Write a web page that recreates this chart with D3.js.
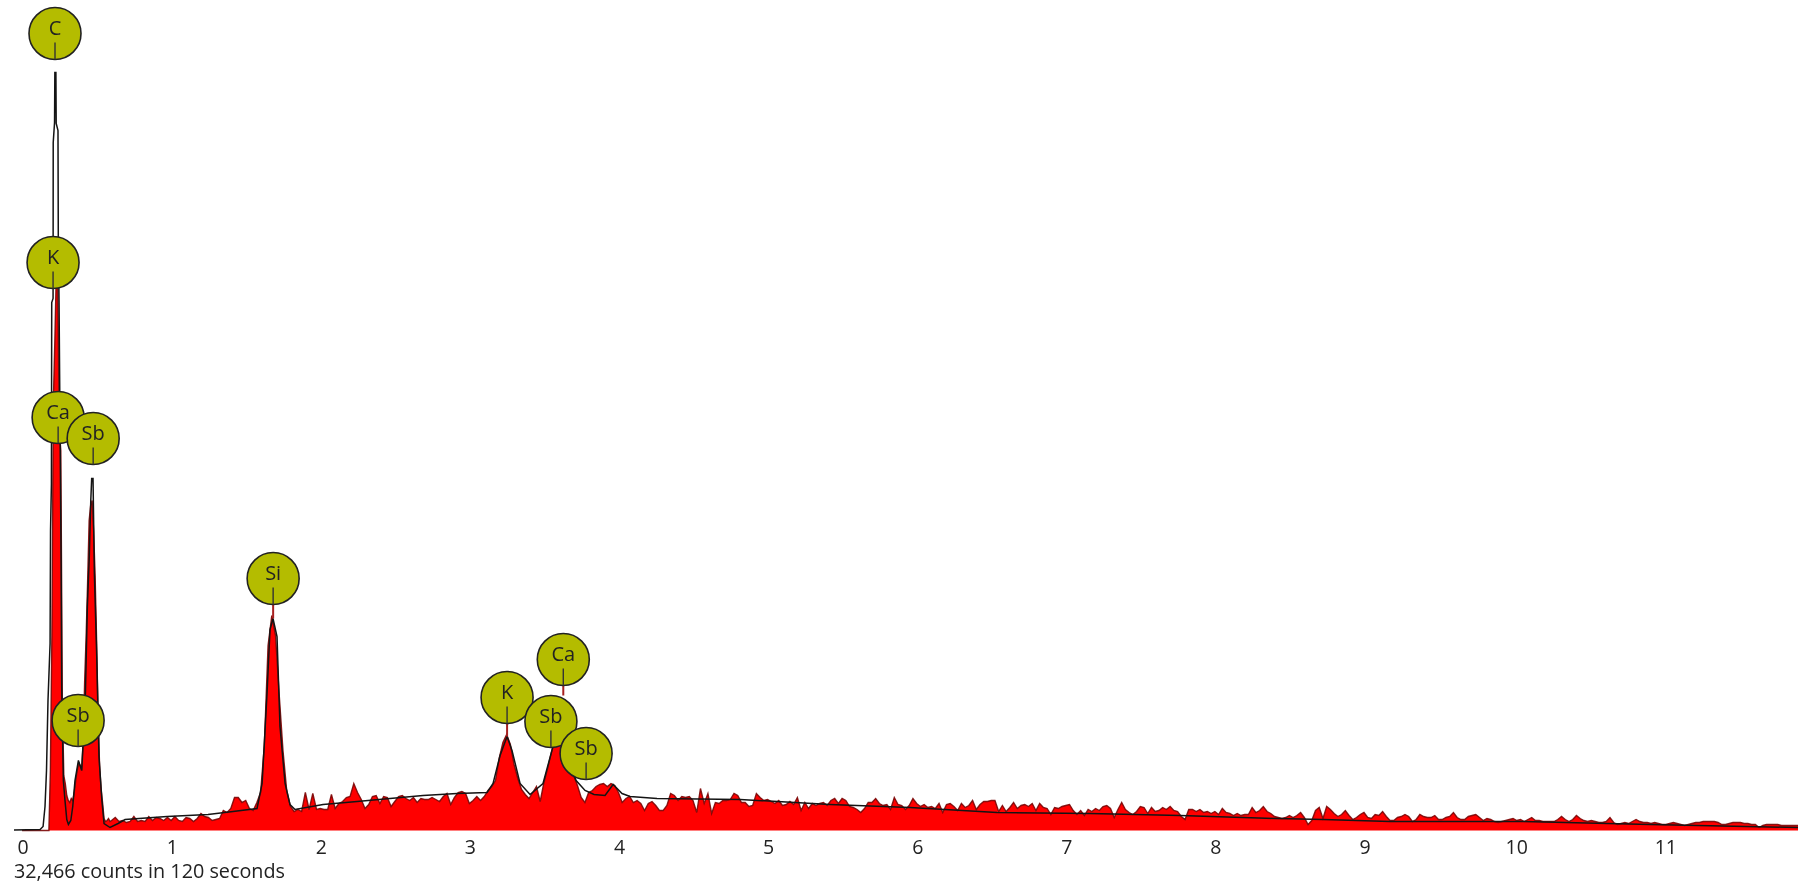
<!DOCTYPE html>
<html>
<head>
<meta charset="utf-8">
<script src="https://cdnjs.cloudflare.com/ajax/libs/d3/7.8.5/d3.min.js"></script>
<style>
  html, body { margin: 0; background: #fff; overflow: hidden; }
  svg { display: block; filter: blur(0.55px); }
  text { font-family: "Open Sans", sans-serif; fill: #222; }
</style>
</head>
<body>
<svg id="chart"></svg>
<script>
// spectrum below 0.6 keV, one value every 0.01 keV
var lowCounts = [0,0,0,0,0,0,0,0,0,0,0,0,0,0,0,0,0,0,0,60,195,430,490,560,540,400,380,130,55,47,
  35,30,28,32,30,38,50,60,68,65,62,90,150,195,250,310,325,330,300,255,190,115,65,42,28,12,9,10,12,9];

// spectrum from 0.6 keV on, one value every 0.025 keV
var tailCounts = [
  10,13,9,10,8,9,14,9,10,9,14,10,13,12,10,13,10,14,10,9,13,12,9,12,17,14,13,10,11,12,20,18,22,33,33,28,30,22,20,28,
  38,85,185,215,195,135,80,40,24,19,
  21,19,38,21,37,21,22,21,21,36,22,27,29,33,34,47,38,31,22,26,34,35,27,34,33,24,29,34,35,32,30,33,28,32,31,31,33,31,29,34,37,26,33,38,39,37,27,30,34,30,34,40,
  44,50,72,88,96,86,66,52,41,36,32,38,44,29,48,62,78,92,95,90,80,68,55,45,33,28,38,40,44,46,47,44,47,45,38,28,32,34,28,30,27,20,27,29,25,20,20,25,
  37,35,30,34,33,34,30,18,42,27,37,17,28,27,30,30,31,37,35,28,28,24,25,37,33,30,31,29,27,30,25,26,29,26,33,20,28,22,27,25,27,28,25,
  30,32,27,32,30,24,23,21,18,22,28,28,32,27,25,26,21,33,26,25,21,25,32,27,24,26,23,24,22,27,18,26,27,24,20,27,23,25,30,21,26,29,29,30,30,19,25,19,23,28,22,25,26,24,27,20,27,23,22,16,23,22,24,25,26,20,16,20,15,21,
  19,22,20,24,25,22,13,21,28,21,18,16,19,24,23,17,23,19,20,23,21,24,20,19,14,11,21,21,19,21,18,19,17,19,16,22,18,17,15,17,15,16,16,23,18,20,24,19,17,14,13,12,13,15,13,15,18,13,6,10,20,23,12,24,21,17,14,16,20,15,11,13,16,18,13,12,16,15,19,14,
  10,10,13,14,16,14,9,11,16,14,13,13,15,11,11,13,14,18,13,11,11,14,15,16,13,10,12,11,9,8,9,10,11,12,10,11,9,11,13,10,10,9,9,9,9,11,14,11,9,11,15,12,10,9,10,9,8,8,9,13,8,6,7,8,7,9,11,9,8,8,7,8,7,6,6,7,8,7,6,5,6,7,8,8,9,9,9,9,8,6,6,7,8,8,8,7,7,6,6,3,5,6,6,6,6,5,5,5,5,5,5
];

var fitKeV = [-0.054,0.121,0.141,0.154,0.164,0.174,0.188,0.191,0.197,0.199,0.208,0.209,0.218,0.220,0.227,0.229,0.241,0.243,0.248,0.255,0.262,0.266,0.277,
  0.288,0.300,0.311,0.327,0.340,0.355,0.378,0.400,0.423,0.438,0.451,0.461,0.467,0.476,0.485,0.501,0.516,0.535,0.550,0.590,
  0.644,0.691,0.973,1.247,1.415,1.576,1.610,1.643,1.663,1.683,1.710,1.730,1.764,1.797,1.831,2.019,2.247,2.468,2.689,2.918,
  3.119,3.159,3.206,3.253,3.286,3.340,3.407,3.494,3.561,3.608,3.660,3.716,3.776,3.836,3.910,3.964,4.024,4.078,4.259,4.816,5.419,
  5.956,6.539,7.163,7.767,8.417,8.726,9.175,10.067,10.919,11.911];
var fitCounts = [0.5,1,4,24,60,130,187,300,347,528,532,688,708,758,758,707,700,595,530,400,267,144,50,
  30,11,6,10,24,50,70,60,124,224,274,330,352,352,257,174,74,31,7,3,
  7,11,14,16,19,22,47,137,201,212,194,104,47,26,21,26,29,32,35,37,
  38,47,75,94,80,47,36,47,84,95,70,50,40,36,35,46,37,34,32,31,26,
  23,18,17,15,12,11,9,9,6,3];

// element markers
var labelNames  = ["C","K","Ca","Sb","Sb","Si","K","Ca","Sb","Sb"];
var labelKeV    = [0.221,0.208,0.242,0.477,0.376,1.684,3.253,3.630,3.547,3.783];
var labelHeight = [797,568,413,392,110,252,133,171,109,77];
var labelPeak   = [null,null,null,null,null,212,94,135,null,null];

var tickValues = [0,1,2,3,4,5,6,7,8,9,10,11];
var footer = "32,466 counts in 120 seconds";

var width = 1798, height = 886;

var svg = d3.select("#chart").attr("width", width).attr("height", height);

var x = d3.scaleLinear().domain([-0.054, 11.911]).range([14, 1798]);
var y = d3.scaleLinear().domain([0, 830]).range([830.5, 0.5]);

var spectrum = lowCounts.map(function(c, i) { return { keV: i * 0.01, counts: c }; })
  .concat(tailCounts.map(function(c, i) { return { keV: 0.6 + i * 0.025, counts: c }; }));

var area = d3.area()
  .x(function(d) { return x(d.keV); })
  .y0(y(0))
  .y1(function(d) { return y(d.counts); });

var topLine = d3.line()
  .x(function(d) { return x(d.keV); })
  .y(function(d) { return y(d.counts); });

svg.append("path").datum(spectrum)
  .attr("d", area)
  .attr("fill", "#ff0000");

svg.append("path").datum(spectrum)
  .attr("d", topLine)
  .attr("fill", "none")
  .attr("stroke", "#7a0505")
  .attr("stroke-opacity", 0.9)
  .attr("stroke-width", 1.4);

var fitLine = d3.line()
  .x(function(d, i) { return x(fitKeV[i]); })
  .y(function(d) { return y(d); });

svg.append("path").datum(fitCounts)
  .attr("d", fitLine)
  .attr("fill", "none")
  .attr("stroke", "#141414")
  .attr("stroke-width", 1.5);

// axis, two digit numbers sit a bit to the right of their tick
var axis = svg.append("g")
  .attr("transform", "translate(0," + 836 + ")")
  .call(d3.axisBottom(x).tickValues(tickValues).tickFormat(d3.format("d")).tickSize(0));
axis.select(".domain").remove();
axis.selectAll("text")
  .attr("text-anchor", "start")
  .attr("x", function(d) { return d >= 10 ? -8 : -5; })
  .attr("y", 4).attr("dy", "0.71em")
  .style("font-size", "19.5px")
  .style("font-family", '"Open Sans", sans-serif').style("fill", "#222");

svg.append("text")
  .attr("x", 14)
  .attr("y", 878)
  .style("font-size", "19.8px")
  .text(footer);

// circles sit on top of the spectrum, later ones over earlier ones
var radius = 26;
var labels = svg.append("g").selectAll("g")
  .data(d3.range(labelNames.length))
  .enter().append("g")
  .attr("transform", function(i) { return "translate(" + x(labelKeV[i]) + "," + y(labelHeight[i]) + ")"; });

labels.filter(function(i) { return labelPeak[i] !== null; })
  .append("line")
  .attr("x1", 0).attr("x2", 0)
  .attr("y1", radius)
  .attr("y2", function(i) { return y(labelPeak[i]) - y(labelHeight[i]); })
  .attr("stroke", "#a82020")
  .attr("stroke-width", 2);

labels.append("circle")
  .attr("r", radius)
  .attr("fill", "#b4bc00")
  .attr("stroke", "#222")
  .attr("stroke-width", 1.6);

labels.append("line")
  .attr("x1", 0).attr("x2", 0)
  .attr("y1", 9).attr("y2", radius)
  .attr("stroke", "#333")
  .attr("stroke-width", 1.4);

labels.append("text")
  .attr("text-anchor", "middle")
  .attr("y", 1)
  .style("font-size", "20px")
  .text(function(i) { return labelNames[i]; });
</script>
</body>
</html>
